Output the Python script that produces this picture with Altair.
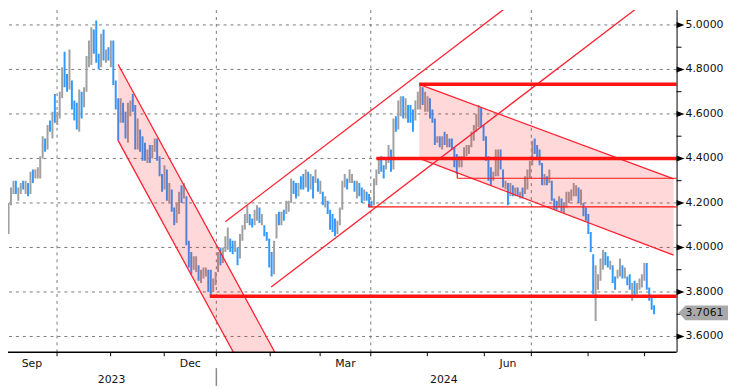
import altair as alt
import pandas as pd

# ---------------- data: daily bars (high, low, up-day flag) ----------------
# index 0 = first trading day of Sep 2023, one slot per weekday
aug23 = [(4.13, 4.08, 0)]
sep23 = [
    (4.20, 4.06, 1), (4.27, 4.19, 1), (4.30, 4.24, 1), (4.30, 4.24, 0), (4.27, 4.21, 1),
    (4.29, 4.24, 1), (4.30, 4.26, 0), (4.30, 4.24, 1), (4.29, 4.23, 0), (4.34, 4.24, 1),
    (4.35, 4.29, 0), (4.35, 4.31, 1), (4.36, 4.31, 1), (4.41, 4.31, 1), (4.50, 4.40, 1),
    (4.49, 4.43, 0), (4.55, 4.44, 1), (4.57, 4.52, 0), (4.61, 4.49, 1), (4.69, 4.56, 0),
    (4.61, 4.55, 1),
]
oct23 = [
    (4.70, 4.58, 1), (4.81, 4.67, 1), (4.88, 4.72, 0), (4.78, 4.70, 0), (4.89, 4.71, 1),
    (4.75, 4.62, 0), (4.66, 4.57, 0), (4.65, 4.53, 0), (4.71, 4.52, 1), (4.70, 4.58, 0),
    (4.72, 4.63, 1), (4.86, 4.70, 1), (4.93, 4.81, 1), (4.99, 4.82, 1), (4.98, 4.87, 0),
    (5.02, 4.83, 0), (4.87, 4.80, 0), (4.96, 4.81, 1), (4.98, 4.84, 0), (4.89, 4.83, 1),
    (4.90, 4.84, 0), (4.93, 4.81, 1),
]
nov23 = [
    (4.93, 4.73, 0), (4.75, 4.62, 0), (4.67, 4.48, 0), (4.67, 4.56, 1), (4.65, 4.56, 0),
    (4.61, 4.49, 0), (4.65, 4.47, 1), (4.66, 4.59, 1), (4.69, 4.61, 0), (4.64, 4.44, 0),
    (4.58, 4.44, 1), (4.53, 4.43, 0), (4.50, 4.39, 0), (4.47, 4.39, 0), (4.44, 4.38, 1),
    (4.46, 4.38, 0), (4.46, 4.40, 1), (4.49, 4.43, 1), (4.49, 4.39, 0), (4.41, 4.32, 0),
    (4.33, 4.25, 0), (4.37, 4.26, 1),
]
dec23 = [
    (4.35, 4.21, 0), (4.29, 4.20, 1), (4.26, 4.16, 0), (4.18, 4.10, 0), (4.20, 4.11, 1),
    (4.25, 4.15, 1), (4.28, 4.20, 0), (4.29, 4.22, 1), (4.23, 4.01, 0), (4.03, 3.91, 0),
    (3.98, 3.88, 0), (3.96, 3.90, 1), (3.96, 3.89, 1), (3.92, 3.85, 0), (3.90, 3.84, 1),
    (3.91, 3.86, 1), (3.91, 3.87, 1), (3.90, 3.80, 0), (3.90, 3.78, 0), (3.86, 3.80, 1),
    (3.89, 3.83, 1),
]
jan24 = [
    (3.98, 3.89, 1), (4.00, 3.92, 0), (4.00, 3.93, 1), (4.05, 3.98, 1), (4.09, 3.99, 1),
    (4.04, 3.98, 0), (4.03, 3.97, 0), (4.03, 3.98, 1), (4.00, 3.92, 0), (4.06, 3.95, 1),
    (4.10, 4.03, 1), (4.15, 4.08, 1), (4.19, 4.11, 1), (4.15, 4.10, 0), (4.13, 4.09, 0),
    (4.17, 4.10, 1), (4.19, 4.12, 1), (4.18, 4.11, 0), (4.15, 4.10, 1), (4.10, 4.05, 0),
    (4.07, 4.03, 0), (4.04, 3.91, 0), (3.98, 3.87, 0),
]
feb24 = [
    (4.03, 3.88, 1), (4.15, 4.04, 1), (4.16, 4.10, 0), (4.16, 4.10, 1), (4.17, 4.12, 0),
    (4.21, 4.15, 1), (4.21, 4.16, 1), (4.31, 4.20, 1), (4.30, 4.24, 0), (4.29, 4.22, 0),
    (4.29, 4.23, 1), (4.32, 4.26, 0), (4.33, 4.26, 0), (4.35, 4.27, 1), (4.34, 4.25, 0),
    (4.33, 4.26, 1), (4.32, 4.22, 0), (4.35, 4.29, 1), (4.31, 4.25, 0), (4.30, 4.24, 1),
    (4.25, 4.19, 0),
]
mar24 = [
    (4.23, 4.18, 1), (4.21, 4.15, 0), (4.17, 4.08, 0), (4.15, 4.07, 0), (4.13, 4.05, 0),
    (4.12, 4.06, 1), (4.18, 4.10, 1), (4.30, 4.17, 1), (4.33, 4.27, 1), (4.31, 4.26, 0),
    (4.35, 4.29, 1), (4.33, 4.29, 1), (4.30, 4.25, 0), (4.30, 4.22, 1), (4.29, 4.23, 0),
    (4.27, 4.20, 0), (4.26, 4.21, 1), (4.25, 4.21, 0), (4.24, 4.18, 0), (4.21, 4.18, 0),
    (4.31, 4.19, 1),
]
apr24 = [
    (4.35, 4.28, 1), (4.40, 4.33, 1), (4.41, 4.34, 0), (4.37, 4.31, 0), (4.40, 4.35, 1),
    (4.46, 4.38, 1), (4.44, 4.34, 0), (4.58, 4.35, 1), (4.59, 4.52, 0), (4.66, 4.53, 1),
    (4.68, 4.59, 1), (4.68, 4.58, 0), (4.67, 4.58, 1), (4.64, 4.56, 0), (4.64, 4.56, 0),
    (4.62, 4.52, 0), (4.66, 4.57, 1), (4.70, 4.62, 1), (4.74, 4.62, 1), (4.72, 4.64, 0),
    (4.70, 4.61, 1), (4.68, 4.61, 1),
]
may24 = [
    (4.67, 4.58, 0), (4.62, 4.56, 0), (4.58, 4.46, 0), (4.50, 4.47, 1), (4.50, 4.45, 0),
    (4.50, 4.44, 1), (4.52, 4.46, 0), (4.51, 4.45, 1), (4.49, 4.45, 0), (4.49, 4.44, 0),
    (4.45, 4.36, 0), (4.42, 4.33, 0), (4.41, 4.36, 1), (4.41, 4.36, 1), (4.45, 4.40, 1),
    (4.46, 4.41, 1), (4.46, 4.42, 1), (4.52, 4.45, 1), (4.55, 4.48, 1), (4.60, 4.52, 1),
    (4.64, 4.54, 1), (4.63, 4.54, 0), (4.55, 4.48, 0),
]
jun24 = [
    (4.50, 4.39, 0), (4.41, 4.30, 0), (4.36, 4.28, 0), (4.34, 4.30, 1), (4.44, 4.32, 1),
    (4.44, 4.32, 1), (4.44, 4.35, 0), (4.35, 4.27, 0), (4.30, 4.26, 1), (4.29, 4.19, 0),
    (4.29, 4.23, 1), (4.28, 4.23, 0), (4.27, 4.23, 1), (4.27, 4.23, 0), (4.25, 4.22, 1),
    (4.27, 4.22, 0), (4.32, 4.24, 1), (4.35, 4.26, 1), (4.39, 4.31, 1), (4.48, 4.37, 1),
]
jul24 = [
    (4.49, 4.42, 0), (4.46, 4.40, 0), (4.44, 4.37, 0), (4.38, 4.28, 0), (4.33, 4.28, 1),
    (4.32, 4.28, 0), (4.35, 4.29, 1), (4.30, 4.21, 0), (4.22, 4.17, 0), (4.21, 4.17, 0),
    (4.23, 4.18, 1), (4.22, 4.16, 0), (4.20, 4.15, 1), (4.25, 4.18, 1), (4.25, 4.20, 1),
    (4.26, 4.21, 1), (4.29, 4.23, 1), (4.28, 4.23, 1), (4.27, 4.20, 0), (4.26, 4.19, 1),
    (4.20, 4.14, 0), (4.18, 4.12, 0), (4.15, 4.06, 0),
]
aug24 = [
    (4.07, 3.98, 0), (3.97, 3.79, 0), (3.92, 3.67, 1), (3.88, 3.81, 1), (3.95, 3.85, 1),
    (3.99, 3.90, 1), (3.98, 3.92, 0), (3.96, 3.91, 0), (3.94, 3.90, 1), (3.92, 3.84, 0),
    (3.87, 3.81, 0), (3.90, 3.86, 1), (3.95, 3.87, 1), (3.92, 3.86, 0), (3.91, 3.86, 1),
    (3.87, 3.83, 0), (3.88, 3.81, 0), (3.84, 3.76, 1), (3.85, 3.78, 0), (3.84, 3.79, 1),
    (3.86, 3.81, 1), (3.88, 3.82, 1),
]
sep24 = [(3.93, 3.85, 1), (3.93, 3.81, 0), (3.82, 3.76, 0), (3.78, 3.72, 0), (3.74, 3.70, 0)]

last_value = 3.7061

# axis / annotation values
y_major = [3.6, 3.8, 4.0, 4.2, 4.4, 4.6, 4.8, 5.0]
y_minor = [3.7, 3.9, 4.1, 4.3, 4.5, 4.7, 4.9]
month_tick_pos = [-0.7, 19.9, 41.9, 63.9, 85.3, 107.4, 127.9, 148.7, 171.9, 195.3, 214.6, 237.9, 261.1]
quarter_grid_pos = [19.9, 85.3, 148.7, 214.6]
month_labels = ["Sep", "Dec", "Mar", "Jun"]
month_label_pos = [9.6, 74.6, 138.3, 205.0]
year_labels = ["2023", "2024"]
year_label_pos = [42.3, 178.7]
year_sep_pos = [85.3]

# trend channels (start index, value) -> (end index, value)
channel_lines = {
    "down1_upper": [(45.0, 4.822), (110.0, 3.515)],
    "down1_lower": [(45.0, 4.480), (110.0, 3.173)],
    "up_upper": [(89.0, 4.116), (215.0, 5.168)],
    "up_lower": [(107.8, 3.822), (275.0, 5.218)],
    "down2_upper": [(168.6, 4.733), (273.0, 4.308)],
    "down2_lower": [(168.6, 4.400), (273.0, 3.966)],
}
shaded = {"down1": ("down1_upper", "down1_lower"), "down2": ("down2_upper", "down2_lower")}

# horizontal levels: (value, start index, thick?)
levels = [(4.733, 168.6, 1), (4.400, 151.0, 1), (3.781, 82.6, 1), (4.311, 184.2, 0), (4.182, 147.9, 0)]
level_stubs = [(184.2, 4.338, 4.311), (147.9, 4.195, 4.182)]

# ---------------- build tables ----------------
rows = []
idx = -1
for month in [aug23, sep23, oct23, nov23, dec23, jan24, feb24, mar24, apr24, may24, jun24, jul24, aug24, sep24]:
    for hi, lo, up in month:
        rows.append({"i": idx, "hi": hi, "lo": lo, "dir": "up" if up else "down"})
        idx += 1
bars_df = pd.DataFrame(rows)

line_rows = []
for name, pts in channel_lines.items():
    for (xi, v) in pts:
        line_rows.append({"ln": name, "i": xi, "v": v})
lines_df = pd.DataFrame(line_rows)

area_rows = []
for name, (u, l) in shaded.items():
    for (xu, vu), (xl, vl) in zip(channel_lines[u], channel_lines[l]):
        area_rows.append({"ch": name, "i": xu, "top": vu, "bot": vl})
area_df = pd.DataFrame(area_rows)

W, H = 676, 346
X_DOM = [1.8, 272.2]
Y_DOM = [3.5289, 5.0667]
xs = alt.Scale(domain=X_DOM, nice=False, zero=False)
ys = alt.Scale(domain=Y_DOM, nice=False, zero=False)

lev_df = pd.DataFrame([{"v": v, "s": s, "e": X_DOM[1] + 5, "thick": t} for v, s, t in levels])
stub_df = pd.DataFrame([{"i": a, "v1": b, "v2": c} for a, b, c in level_stubs])

FONT = "DejaVu Sans"
RED = "#ff1414"
BLUE = "#3399ff"
GREY = "#a0a0a0"
GRID = "#7a7a7a"
INK = "#111111"

X = lambda f: alt.X(f, type="quantitative", scale=xs, axis=None)
Y = lambda f: alt.Y(f, type="quantitative", scale=ys, axis=None)

hgrid = alt.Chart(pd.DataFrame({"v": y_major})).mark_rule(
    color=GRID, strokeWidth=1, strokeDash=[3, 4], clip=True
).encode(y=Y("v"))

vgrid = alt.Chart(pd.DataFrame({"p": quarter_grid_pos})).mark_rule(
    color=GRID, strokeWidth=1, strokeDash=[3, 4], clip=True
).encode(x=X("p"))

bars = alt.Chart(bars_df).mark_bar(width=2, clip=True).encode(
    x=X("i"),
    y=Y("lo"),
    y2="hi:Q",
    color=alt.Color("dir:N", scale=alt.Scale(domain=["up", "down"], range=[GREY, BLUE]), legend=None),
)

areas = alt.Chart(area_df).mark_area(color="#ff0000", opacity=0.15, clip=True).encode(
    x=X("i"), y=Y("top"), y2="bot:Q", detail="ch:N"
)

chan = alt.Chart(lines_df).mark_line(color="#ff2030", strokeWidth=1.3, clip=True).encode(
    x=X("i"), y=Y("v"), detail="ln:N"
)

thick = alt.Chart(lev_df[lev_df.thick == 1]).mark_rule(color=RED, strokeWidth=3.5, clip=True).encode(
    x=X("s"), x2="e:Q", y=Y("v")
)
thin = alt.Chart(lev_df[lev_df.thick == 0]).mark_rule(color=RED, strokeWidth=1.2, clip=True).encode(
    x=X("s"), x2="e:Q", y=Y("v")
)
stubs = alt.Chart(stub_df).mark_rule(color=RED, strokeWidth=1.2, clip=True).encode(
    x=X("i"), y=Y("v1"), y2="v2:Q"
)

# right value axis (drawn by hand)
y_line = alt.Chart(pd.DataFrame({"a": [0]})).mark_rule(color="black", strokeWidth=1).encode(
    x=alt.value(W + 0.5), y=alt.value(0), y2=alt.value(H)
)
minor_ticks = alt.Chart(pd.DataFrame({"v": y_minor})).mark_rule(color="black", strokeWidth=1).encode(
    x=alt.value(W), x2=alt.value(W + 5), y=Y("v")
)
arrows = alt.Chart(pd.DataFrame({"v": y_major})).mark_point(
    shape="M-1,-0.75L1,0L-1,0.75Z", filled=True, size=64, color="black", opacity=1
).encode(x=alt.value(W + 4), y=Y("v"))
y_text = alt.Chart(pd.DataFrame({"v": y_major, "t": [f"{v:.4f}" for v in y_major]})).mark_text(
    align="left", baseline="middle", font=FONT, fontSize=11, color=INK
).encode(x=alt.value(W + 9), y=Y("v"), text="t:N")

last_df = pd.DataFrame({"v": [last_value], "txt": [f"{last_value:.4f}"]})
last_box = alt.Chart(last_df).mark_point(
    shape="M-1,0L-0.72,-0.3L1,-0.3L1,0.3L-0.72,0.3Z", filled=True, size=2500,
    color="#a9a9a9", opacity=1
).encode(x=alt.value(W + 27), y=Y("v"))
last_txt = alt.Chart(last_df).mark_text(
    align="left", baseline="middle", font=FONT, fontSize=11, color=INK
).encode(x=alt.value(W + 9), y=Y("v"), text="txt:N")

# bottom time axis
x_line = alt.Chart(pd.DataFrame({"a": [0]})).mark_rule(color="black", strokeWidth=1.5).encode(
    x=alt.value(0), x2=alt.value(W), y=alt.value(H)
)
m_ticks = alt.Chart(pd.DataFrame({"p": month_tick_pos})).mark_rule(color="black", strokeWidth=1).encode(
    x=X("p"), y=alt.value(H), y2=alt.value(H + 4)
)
m_labels = alt.Chart(pd.DataFrame({"p": month_label_pos, "t": month_labels})).mark_text(
    font=FONT, fontSize=11, color=INK, baseline="alphabetic", align="center"
).encode(x=X("p"), y=alt.value(H + 15), text="t:N")
y_labels = alt.Chart(pd.DataFrame({"p": year_label_pos, "t": year_labels})).mark_text(
    font=FONT, fontSize=11, color=INK, baseline="alphabetic", align="center"
).encode(x=X("p"), y=alt.value(H + 31), text="t:N")
y_sep = alt.Chart(pd.DataFrame({"p": year_sep_pos})).mark_rule(color="#8a8a8a", strokeWidth=1.5).encode(
    x=X("p"), y=alt.value(H + 16), y2=alt.value(H + 34)
)

chart = alt.layer(
    hgrid, vgrid, bars, areas, chan, thick, thin, stubs,
    y_line, minor_ticks, arrows, y_text, last_box, last_txt,
    x_line, m_ticks, m_labels, y_labels, y_sep
).properties(
    width=W, height=H,
    autosize=alt.AutoSizeParams(type="none"),
    padding={"left": 0, "top": 0, "right": 52, "bottom": 35},
).configure_view(stroke=None)

chart.save("out.html", embed_options={"renderer": "svg", "actions": False})
